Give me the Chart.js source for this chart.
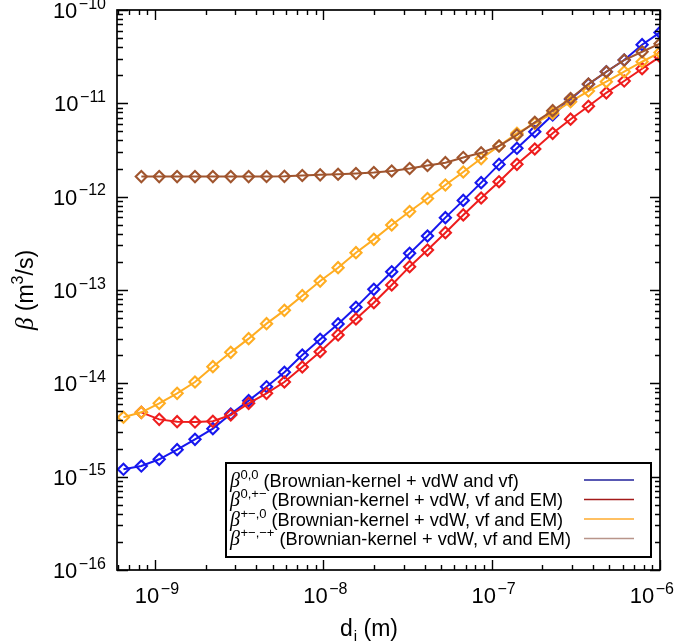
<!DOCTYPE html>
<html><head><meta charset="utf-8">
<script src="https://cdn.jsdelivr.net/npm/chart.js@4.4.1/dist/chart.umd.min.js"></script>
<style>html,body{margin:0;padding:0;background:#fff}#wrap{width:685px;height:643px;position:relative}</style>
</head><body><div id="wrap"><canvas id="c"></canvas></div>
<script>
// particle diameter d_i (m)
const diameters = [6.50e-10, 8.30e-10, 1.060e-9, 1.354e-9, 1.729e-9, 2.208e-9, 2.820e-9, 3.601e-9, 4.600e-9, 5.874e-9,
  7.502e-9, 9.58e-9, 1.224e-8, 1.563e-8, 1.996e-8, 2.549e-8, 3.256e-8, 4.158e-8, 5.310e-8, 6.782e-8,
  8.662e-8, 1.106e-7, 1.413e-7, 1.804e-7, 2.304e-7, 2.943e-7, 3.758e-7, 4.800e-7, 6.130e-7, 7.829e-7, 1.0e-6];
// beta^{0,0}
const beta00 = [1.20e-15, 1.30e-15, 1.535e-15, 1.945e-15, 2.51e-15, 3.27e-15, 4.69e-15, 6.52e-15, 9.20e-15, 1.312e-14,
  2.01e-14, 2.96e-14, 4.33e-14, 6.52e-14, 1.016e-13, 1.570e-13, 2.47e-13, 3.79e-13, 5.96e-13, 9.12e-13,
  1.413e-12, 2.218e-12, 3.30e-12, 4.97e-12, 7.50e-12, 1.104e-11, 1.600e-11, 2.18e-11, 2.91e-11, 4.25e-11, 5.75e-11];
// beta^{0,+-}
const beta0pm = [null, 4.89e-15, 4.11e-15, 3.88e-15, 3.85e-15, 3.92e-15, 4.58e-15, 6.11e-15, 7.82e-15, 1.033e-14,
  1.496e-14, 2.18e-14, 3.30e-14, 4.89e-14, 7.31e-14, 1.132e-13, 1.778e-13, 2.68e-13, 4.11e-13, 6.37e-13,
  9.68e-13, 1.446e-12, 2.22e-12, 3.24e-12, 4.77e-12, 6.76e-12, 9.29e-12, 1.297e-11, 1.734e-11, 2.35e-11, 3.16e-11];
// beta^{+-,0}
const betapm0 = [4.33e-15, 4.89e-15, 6.11e-15, 7.82e-15, 1.033e-14, 1.507e-14, 2.148e-14, 3.01e-14, 4.36e-14, 6.05e-14,
  8.69e-14, 1.247e-13, 1.734e-13, 2.51e-13, 3.49e-13, 4.97e-13, 6.93e-13, 9.55e-13, 1.334e-12, 1.837e-12,
  2.56e-12, 3.49e-12, 4.77e-12, 6.11e-12, 7.82e-12, 1.041e-11, 1.355e-11, 1.706e-11, 2.18e-11, 2.79e-11, 3.51e-11];
// beta^{+-,-+}
const betapmmp = [null, 1.64e-12, 1.64e-12, 1.64e-12, 1.64e-12, 1.64e-12, 1.64e-12, 1.64e-12, 1.645e-12, 1.65e-12,
  1.686e-12, 1.714e-12, 1.738e-12, 1.77e-12, 1.815e-12, 1.884e-12, 2.004e-12, 2.158e-12, 2.312e-12, 2.63e-12,
  2.95e-12, 3.49e-12, 4.58e-12, 6.26e-12, 8.34e-12, 1.127e-11, 1.611e-11, 2.18e-11, 2.91e-11, 3.57e-11, 4.35e-11];

const yTickExponents = [-10, -11, -12, -13, -14, -15, -16];
const xTickExponents = [-9, -8, -7, -6];
const seriesSup = ['0,0', '0,+\u2212', '+\u2212,0', '+\u2212,\u2212+'];
const seriesText = ['(Brownian-kernel + vdW and vf)', '(Brownian-kernel + vdW, vf and EM)',
  '(Brownian-kernel + vdW, vf and EM)', '(Brownian-kernel + vdW, vf and EM)'];
const seriesColors = ['#1717ee', '#ee1d1d', '#ffad22', '#a0552e'];
const legendColors = ['#20209a', '#a31a1a', '#ffab2e', '#b8958a'];

const X_MIN = 5.95e-10, X_MAX = 1e-6, Y_MIN = 1e-16, Y_MAX = 1e-10;
const SANS = '"Liberation Sans", Arial, Helvetica, sans-serif';
const SERIF = '"Liberation Serif", "Times New Roman", serif';

function pts(arr) { return diameters.map((d, i) => ({x: d, y: arr[i]})).filter(p => p.y !== null); }
const allSeries = [beta00, beta0pm, betapm0, betapmmp];
const datasets = allSeries.map((s, k) => ({
  label: seriesText[k], data: pts(s), borderColor: seriesColors[k], backgroundColor: 'rgba(0,0,0,0)',
  borderWidth: 2, pointStyle: 'rectRot', pointRadius: 5.6, pointBorderWidth: 2.1,
  pointBorderColor: seriesColors[k], pointBackgroundColor: 'rgba(0,0,0,0)', tension: 0, order: 4 - k
}));

function drawPow(ctx, exp, x, y, align, mainSize, supSize) {
  const mainF = mainSize + 'px ' + SANS, supF = supSize + 'px ' + SANS;
  const sup = '\u2212' + Math.abs(exp);
  ctx.font = mainF; const w1 = ctx.measureText('10').width;
  ctx.font = supF; const w2 = ctx.measureText(sup).width;
  const total = w1 + 1.5 + w2;
  let x0 = align === 'right' ? x - total : x - total / 2;
  if (x0 + total > 674) x0 = 674 - total;
  ctx.textAlign = 'left'; ctx.textBaseline = 'alphabetic';
  ctx.font = mainF; ctx.fillText('10', x0, y);
  ctx.font = supF; ctx.fillText(sup, x0 + w1 + 1.5, y - mainSize * 0.43);
}

const deco = {
  id: 'deco',
  afterDatasetsDraw(chart) {
    const ctx = chart.ctx, a = chart.chartArea, xs = chart.scales.x, ys = chart.scales.y;
    ctx.save();
    ctx.strokeStyle = '#000'; ctx.fillStyle = '#000';
    // ticks
    ctx.lineWidth = 1.4;
    ctx.beginPath();
    for (let e = -16; e <= -10; e++) {
      for (let m = 1; m <= 9; m++) {
        const v = m * Math.pow(10, e);
        if (v < Y_MIN * 0.999 || v > Y_MAX * 1.001) continue;
        const py = Math.round(ys.getPixelForValue(v)) + 0.5;
        const len = m === 1 ? 11 : 6;
        ctx.moveTo(a.left, py); ctx.lineTo(a.left + len, py);
        ctx.moveTo(a.right, py); ctx.lineTo(a.right - (m === 1 ? 10 : 5), py);
      }
    }
    for (let e = -10; e <= -6; e++) {
      for (let m = 1; m <= 9; m++) {
        const v = m * Math.pow(10, e);
        if (v < X_MIN || v > X_MAX * 1.001) continue;
        const px = Math.round(xs.getPixelForValue(v)) + 0.5;
        const len = m === 1 ? 10 : 5;
        ctx.moveTo(px, a.bottom); ctx.lineTo(px, a.bottom - len);
        ctx.moveTo(px, a.top); ctx.lineTo(px, a.top + len);
      }
    }
    ctx.stroke();
    // frame
    ctx.lineWidth = 1.7;
    ctx.strokeRect(a.left, a.top, a.right - a.left, a.bottom - a.top);
    // tick labels
    yTickExponents.forEach(e => {
      const py = ys.getPixelForValue(Math.pow(10, e));
      drawPow(ctx, e, 106, py + 8, 'right', 22, 16);
    });
    xTickExponents.forEach(e => {
      const px = xs.getPixelForValue(Math.pow(10, e));
      drawPow(ctx, e, px + 2, 603, 'center', 22, 16);
    });
    // x title: d_i (m)
    ctx.textAlign = 'left'; ctx.textBaseline = 'alphabetic';
    ctx.font = '23px ' + SANS;
    const wd = ctx.measureText('d').width;
    ctx.font = '15px ' + SANS; const wi = ctx.measureText('i').width;
    let tx = 340;
    ctx.font = '23px ' + SANS; ctx.fillText('d', tx, 636);
    ctx.font = '15px ' + SANS; ctx.fillText('i', tx + wd + 1, 641);
    ctx.font = '23px ' + SANS; ctx.fillText(' (m)', tx + wd + 1 + wi, 636);
    // y title: beta (m^3/s)
    ctx.save();
    ctx.translate(33, (a.top + a.bottom) / 2);
    ctx.rotate(-Math.PI / 2);
    ctx.font = 'italic 25px ' + SERIF; const wb = ctx.measureText('\u03b2').width;
    ctx.font = '23px ' + SANS; const wm = ctx.measureText(' (m').width;
    ctx.font = '16px ' + SANS; const w3 = ctx.measureText('3').width;
    ctx.font = '23px ' + SANS; const ws = ctx.measureText('/s)').width;
    let yx = -(wb + wm + w3 + ws) / 2;
    ctx.font = 'italic 25px ' + SERIF; ctx.fillText('\u03b2', yx, 0); yx += wb;
    ctx.font = '23px ' + SANS; ctx.fillText(' (m', yx, 0); yx += wm;
    ctx.font = '16px ' + SANS; ctx.fillText('3', yx, -10); yx += w3;
    ctx.font = '23px ' + SANS; ctx.fillText('/s)', yx, 0);
    ctx.restore();
    // legend
    const bx = 226, by = 463, bw = 425, bh = 94;
    ctx.fillStyle = '#fff'; ctx.fillRect(bx, by, bw, bh);
    ctx.strokeStyle = '#000'; ctx.lineWidth = 2; ctx.strokeRect(bx, by, bw, bh);
    ctx.fillStyle = '#000';
    const baselines = [486.5, 506, 525.5, 545];
    for (let k = 0; k < 4; k++) {
      const bl = baselines[k];
      let lx = 230;
      ctx.font = 'italic 20px ' + SERIF; ctx.fillText('\u03b2', lx, bl); lx += ctx.measureText('\u03b2').width + 0.5;
      ctx.font = '13px ' + SANS; ctx.fillText(seriesSup[k], lx, bl - 8); lx += ctx.measureText(seriesSup[k]).width + 5;
      ctx.font = '18.2px ' + SANS; ctx.fillText(seriesText[k], lx, bl);
      ctx.strokeStyle = legendColors[k]; ctx.lineWidth = 1.3;
      ctx.beginPath(); ctx.moveTo(584, bl - 6.5); ctx.lineTo(634, bl - 6.5); ctx.stroke();
    }
    ctx.restore();
  }
};

new Chart(document.getElementById('c'), {
  type: 'line',
  data: { datasets },
  options: {
    responsive: true, maintainAspectRatio: false, animation: false,
    layout: { padding: { left: 117, right: 25, top: 10, bottom: 73 } },
    plugins: { legend: { display: false }, tooltip: { enabled: false } },
    scales: {
      x: { type: 'logarithmic', min: X_MIN, max: X_MAX, display: false },
      y: { type: 'logarithmic', min: Y_MIN, max: Y_MAX, display: false }
    }
  },
  plugins: [deco]
});
</script></body></html>
